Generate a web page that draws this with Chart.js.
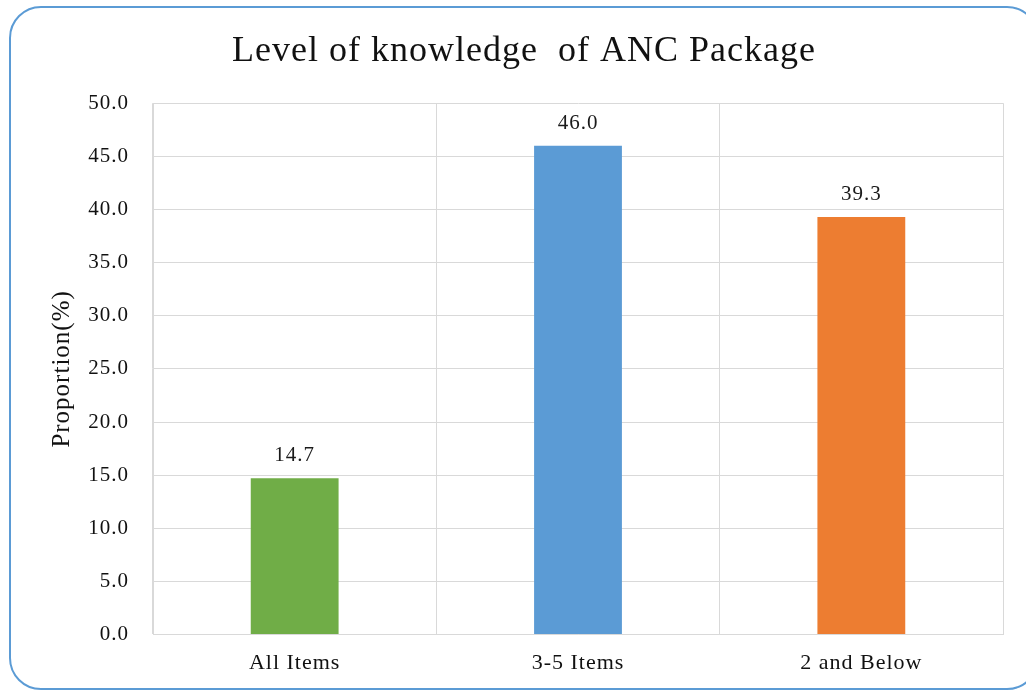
<!DOCTYPE html>
<html>
<head>
<meta charset="utf-8">
<script src="https://cdn.jsdelivr.net/npm/chart.js@4/dist/chart.umd.min.js"></script>
<style>
  html, body { margin: 0; padding: 0; background: #fff; overflow: hidden; }
  #frame {
    position: absolute; left: 9px; top: 6px; width: 1030px; height: 684px;
    border: 2px solid #5B9BD5; border-radius: 32px; box-sizing: border-box;
  }
  #wrap { position: absolute; left: 0; top: 0; width: 1026px; height: 691px; }
</style>
</head>
<body>
<div id="frame"></div>
<div id="wrap"><canvas id="chart"></canvas></div>
<script>
var categories = ["All Items", "3-5 Items", "2 and Below"];
var values = [14.7, 46.0, 39.3];
var barColors = ["#70AD47", "#5B9BD5", "#ED7D31"];
var yTicks = [0, 5, 10, 15, 20, 25, 30, 35, 40, 45, 50];

var serif = "'Liberation Serif', 'Times New Roman', serif";

// the picture's text is set a little wider than canvas draws it
var wideText = {
    id: "wideText",
    beforeLayout: function(chart) { chart.ctx.letterSpacing = "1px"; },
    beforeDraw: function(chart) { chart.ctx.letterSpacing = "1px"; }
};

// values drawn above each bar
var valueLabels = {
    id: "valueLabels",
    afterDatasetsDraw: function(chart) {
        var ctx = chart.ctx;
        var meta = chart.getDatasetMeta(0);
        ctx.save();
        ctx.font = "21px " + serif;
        ctx.fillStyle = "#1a1a1a";
        ctx.textAlign = "center";
        ctx.textBaseline = "bottom";
        meta.data.forEach(function(bar, i) {
            ctx.fillText(values[i].toFixed(1), bar.x, bar.y - 12);
        });
        ctx.restore();
    }
};

new Chart(document.getElementById("chart"), {
    type: "bar",
    data: {
        labels: categories,
        datasets: [{
            data: values,
            backgroundColor: barColors,
            borderWidth: 0,
            barPercentage: 0.31,
            categoryPercentage: 1
        }]
    },
    options: {
        responsive: true,
        maintainAspectRatio: false,
        animation: false,
        layout: { padding: { left: 45, right: 23, top: 30, bottom: 0 } },
        plugins: {
            legend: { display: false },
            tooltip: { enabled: false },
            title: {
                display: true,
                text: "Level of knowledge  of ANC Package",
                color: "#111",
                font: { family: serif, size: 36, weight: "normal" },
                padding: { top: 0, bottom: 30 }
            }
        },
        scales: {
            x: {
                grid: { color: "#d9d9d9", drawTicks: false, offset: true },
                border: { color: "#d9d9d9" },
                ticks: { color: "#111", font: { family: serif, size: 22 }, padding: 15 }
            },
            y: {
                min: 0,
                max: 50,
                afterBuildTicks: function(scale) {
                    scale.ticks = yTicks.map(function(v) { return { value: v }; });
                },
                afterFit: function(scale) { scale.width = 108; },
                grid: { color: "#d9d9d9", drawTicks: false },
                border: { color: "#d9d9d9" },
                ticks: {
                    color: "#111",
                    font: { family: serif, size: 21 },
                    padding: 24,
                    callback: function(v) { return Number(v).toFixed(1); }
                },
                title: {
                    display: true,
                    text: "Proportion(%)",
                    color: "#111",
                    font: { family: serif, size: 25 },
                    padding: 2
                }
            }
        }
    },
    plugins: [wideText, valueLabels]
});
</script>
</body>
</html>
